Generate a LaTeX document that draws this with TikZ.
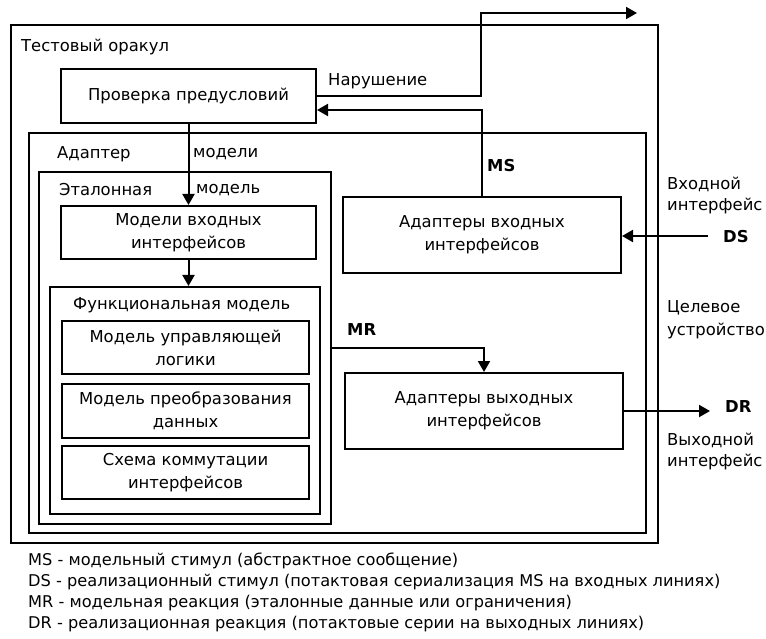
\documentclass[tikz,border=0pt]{standalone}
\usepackage{fontspec}
\setmainfont{DejaVu Sans}
\usetikzlibrary{arrows.meta}
\begin{document}
\begin{tikzpicture}[x=1pt,y=-1pt,
  box/.style={draw, line width=2pt, inner sep=0pt, align=center, font=\fontsize{16.4}{23}\selectfont},
  lbl/.style={anchor=west, inner sep=0pt, font=\fontsize{16.4}{23}\selectfont},
  blbl/.style={anchor=west, inner sep=0pt, font=\fontsize{16.4}{23}\selectfont\bfseries},
  leg/.style={anchor=west, inner sep=0pt, font=\fontsize{16.2}{18}\selectfont},
  arr/.style={line width=2pt, -{Triangle[length=11pt,width=12pt]}},
  ln/.style={line width=2pt}]
\useasboundingbox (0,0) rectangle (766,639);
% containers
\node[box, minimum width=647pt, minimum height=518pt] (oracle) at (334.5,284) {};
\node[box, minimum width=617pt, minimum height=400pt] (adapter) at (337.5,333) {};
\node[box, minimum width=292pt, minimum height=352pt] (etalon) at (185,348) {};
\node[box, minimum width=270pt, minimum height=227pt] (func) at (185,400.5) {};
% boxes
\node[box, minimum width=255pt, minimum height=54pt] (check) at (188.5,96) {Проверка предусловий};
\node[box, minimum width=255pt, minimum height=53pt] (inmod) at (188.5,232.5) {Модели входных\\интерфейсов};
\node[box, minimum width=247pt, minimum height=53pt] (ctrl) at (185.5,347.5) {Модель управляющей\\логики};
\node[box, minimum width=247pt, minimum height=54pt] (conv) at (185.5,411) {Модель преобразования\\данных};
\node[box, minimum width=247pt, minimum height=53pt] (comm) at (185.5,472.5) {Схема коммутации\\интерфейсов};
\node[box, minimum width=278pt, minimum height=76pt] (inad) at (482,235) {Адаптеры входных\\интерфейсов};
\node[box, minimum width=278pt, minimum height=76pt] (outad) at (484,411) {Адаптеры выходных\\интерфейсов};
% labels
\node[lbl] (l1) at (21,47) {Тестовый оракул};
\node[lbl] (l2) at (328,81) {Нарушение};
\node[lbl] (l3) at (57,154) {Адаптер};
\node[lbl] (l4) at (193,154) {модели};
\node[lbl] (l5) at (59,190) {Эталонная};
\node[lbl] (l6) at (196,190) {модель};
\node[lbl] (l7) at (73,305) {Функциональная модель};
\node[blbl] (ms) at (487,166) {MS};
\node[blbl] (mr) at (347,330) {MR};
\node[blbl] (dsl) at (723,237) {DS};
\node[blbl] (drl) at (725,407) {DR};
\node[lbl] (l8) at (667,184) {Входной};
\node[lbl] (l9) at (667,206) {интерфейс};
\node[lbl] (l10) at (667,308) {Целевое};
\node[lbl] (l11) at (667,331) {устройство};
\node[lbl] (l12) at (667,440) {Выходной};
\node[lbl] (l13) at (667,462) {интерфейс};
% legend
\node[leg] (g1) at (28,561) {MS - модельный стимул (абстрактное сообщение)};
\node[leg] (g2) at (28,582) {DS - реализационный стимул (потактовая сериализация MS на входных линиях)};
\node[leg] (g3) at (28,603) {MR - модельная реакция (эталонные данные или ограничения)};
\node[leg] (g4) at (28,624) {DR - реализационная реакция (потактовые серии на выходных линиях)};
% connectors
\coordinate (out) at (637,13);
\coordinate (ds) at (708,236);
\coordinate (dr) at (710,411);
\draw[arr] (check.south) -- (inmod.north);
\draw[arr] (inmod.south) -- (inmod.south |- func.north);
\draw[arr] (check.east) -| (481,13) -- (out);
\draw[arr] (inad.north) |- ([yshift=-14pt]check.east);
\draw[arr] (ds) -- (ds -| inad.east);
\draw[arr] (etalon.east) -| (outad.north);
\draw[arr] (outad.east) -- (dr);
\end{tikzpicture}
\end{document}
